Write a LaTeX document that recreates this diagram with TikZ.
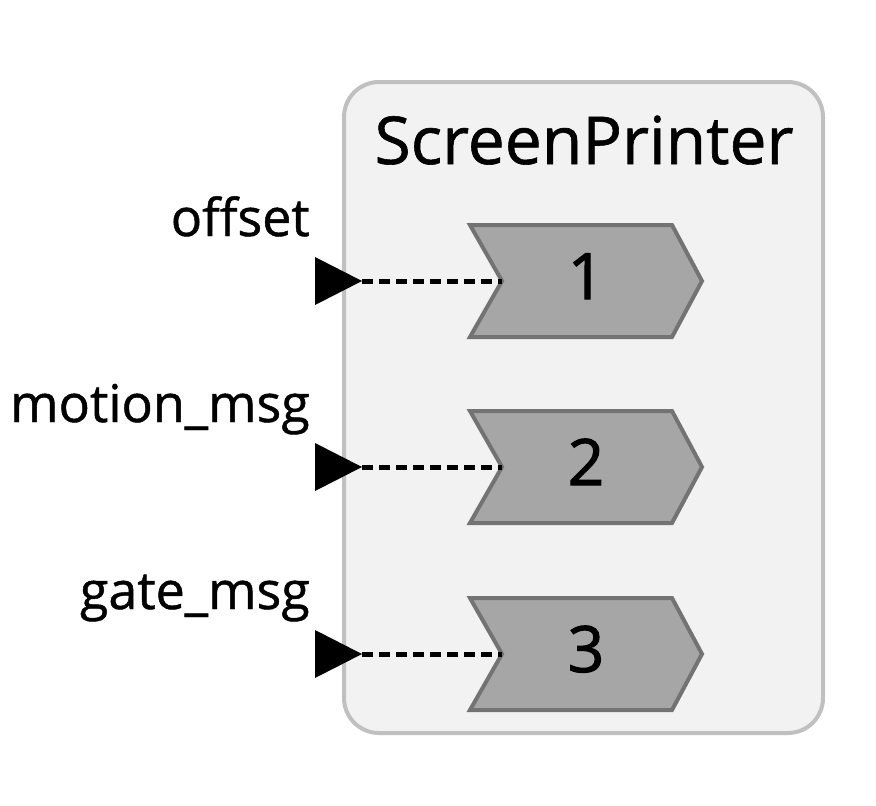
\documentclass[tikz,border=0pt]{standalone}
\usepackage{fontspec}
\setmainfont{Open Sans}[FakeBold=0.9]
\newfontfamily\digitfont{Open Sans}[FakeBold=1.6]
\definecolor{boxfill}{HTML}{F2F2F2}
\definecolor{boxline}{HTML}{C0C0C0}
\definecolor{chevfill}{HTML}{A6A6A6}
\definecolor{chevline}{HTML}{737373}
\tikzset{
  container/.style={draw=boxline, fill=boxfill, line width=4pt, rounded corners=35pt},
  chevron/.style={draw=chevline, fill=chevfill, line width=4pt, line join=miter},
  porttext/.style={font=\fontsize{52}{60}\selectfont, anchor=base east, inner sep=0pt},
  numtext/.style={font=\digitfont\fontsize{64}{68}\selectfont, anchor=base, inner sep=0pt},
  titletext/.style={font=\fontsize{66}{68}\selectfont, anchor=base, inner sep=0pt},
  wire/.style={draw=black, line width=5pt, dash pattern=on 11pt off 6pt},
  porthead/.style={fill=black}
}
\begin{document}
\begin{tikzpicture}[x=1pt,y=-1pt]
\useasboundingbox (0,0) rectangle (876,806);
\draw[container] (344,82) rectangle (823,733);
\node[titletext] (title) at (584,164) {ScreenPrinter};
\foreach \i/\y/\lab in {1/281/offset,2/467/motion\_msg,3/654/gate\_msg}{
  \draw[chevron] (470,\y-56) -- (672,\y-56) -- (702,\y) -- (672,\y+56) -- (470,\y+56) -- (502,\y) -- cycle;
  \coordinate (notch\i) at (502,\y);
  \coordinate (tip\i) at (362,\y);
  \node[numtext] (num\i) at (586,\y+18) {\i};
  \fill[porthead] (315,\y-24) -- (tip\i) -- (315,\y+24) -- cycle;
  \draw[wire] (tip\i) -- (notch\i);
  \node[porttext] (lab\i) at (310,\y-45) {\lab};
}
\end{tikzpicture}
\end{document}
